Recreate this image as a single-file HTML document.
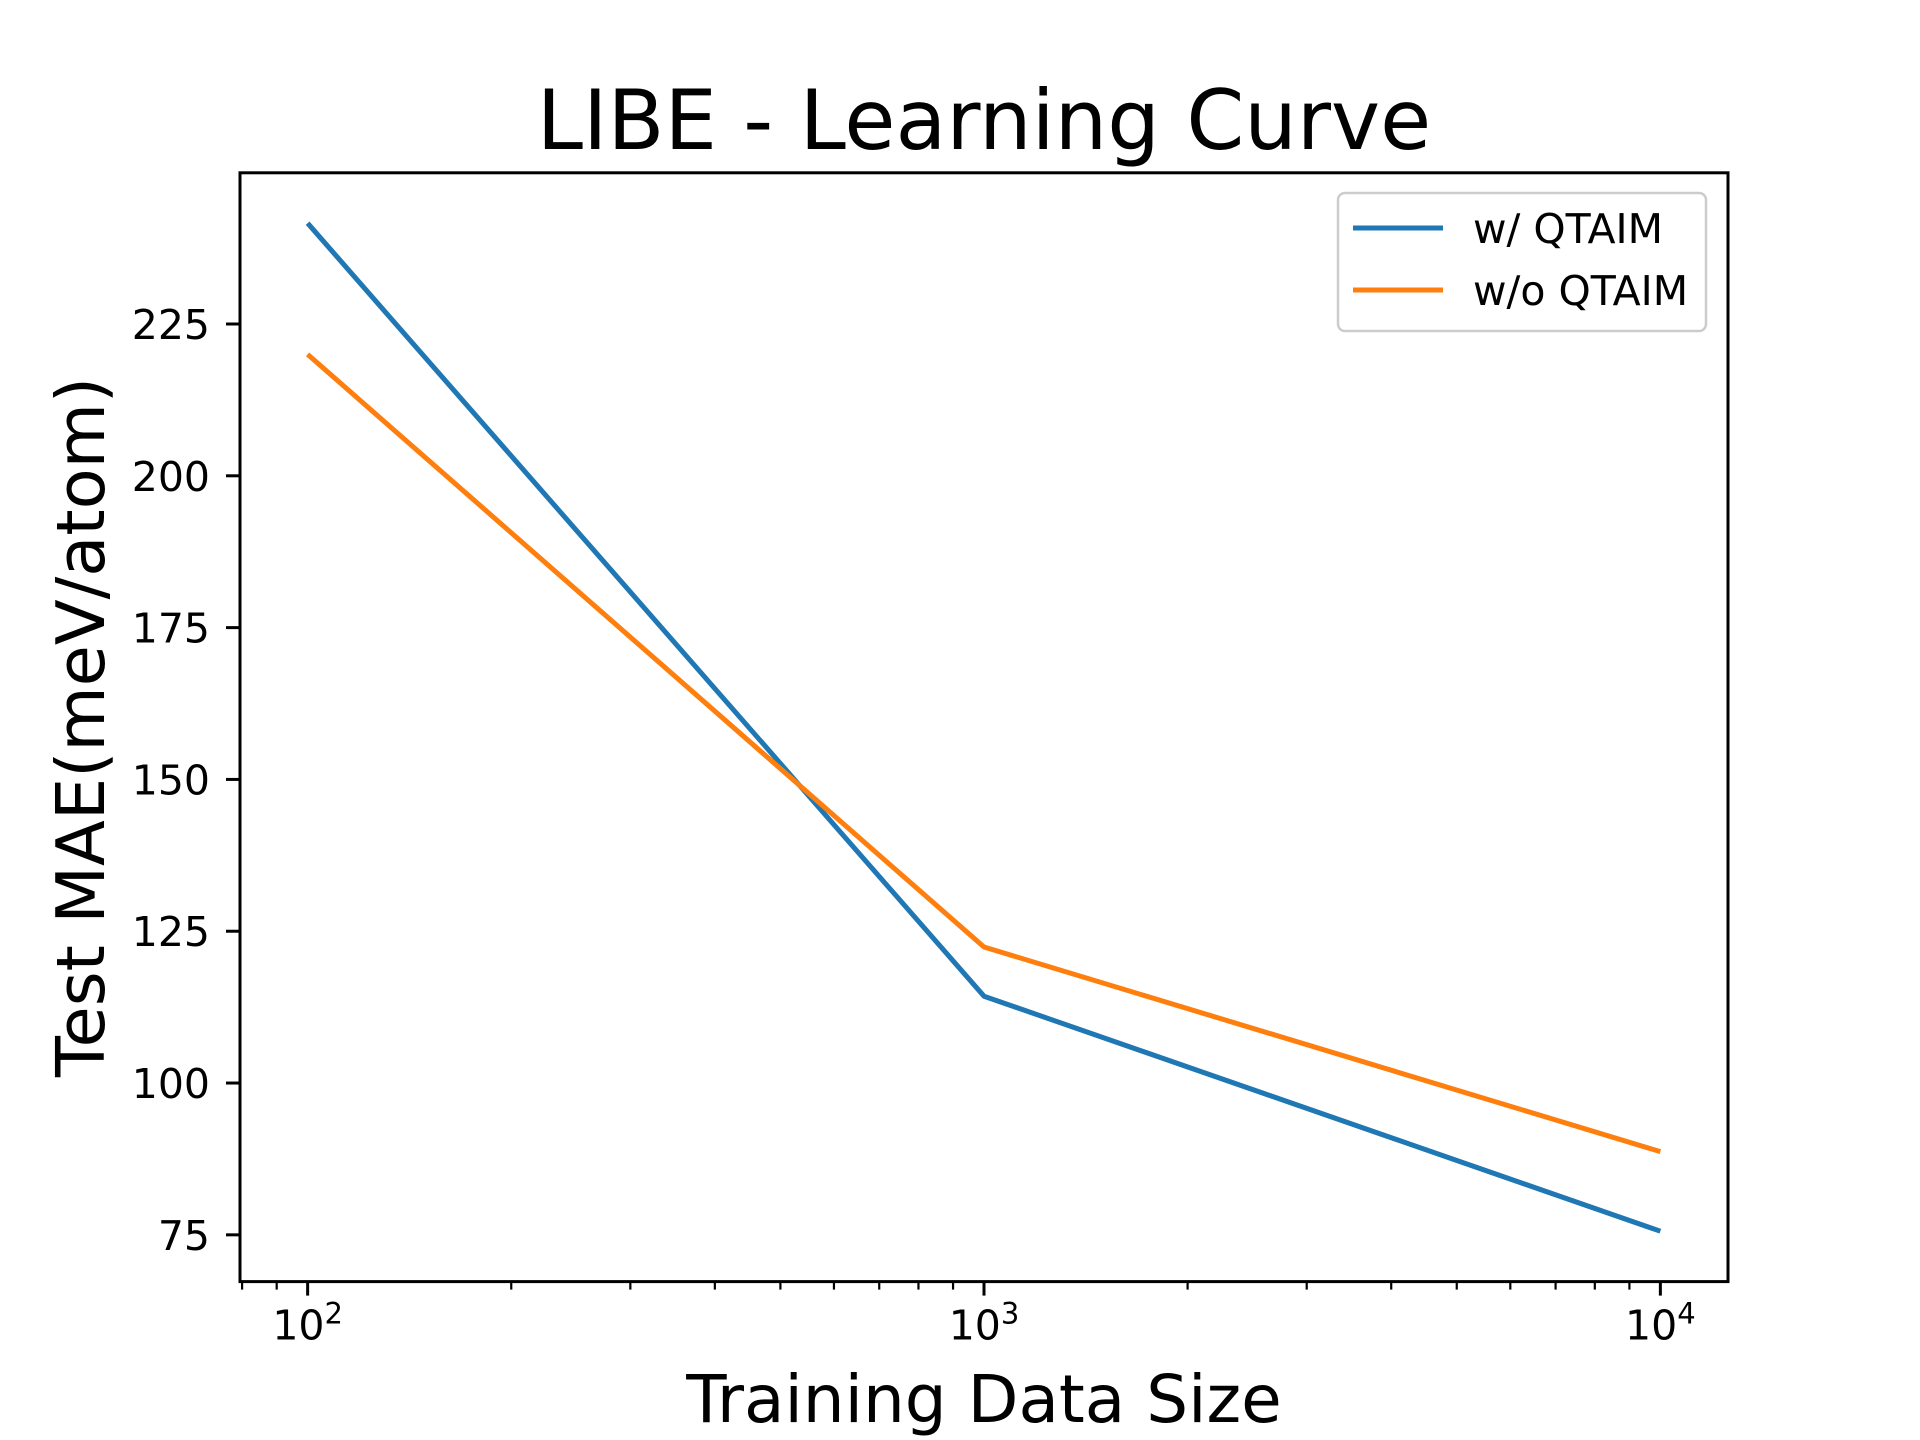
<!DOCTYPE html>
<html><head><meta charset="utf-8"><style>
html,body{margin:0;padding:0;background:#fff;}
svg{display:block;font-family:"DejaVu Sans","Liberation Sans",sans-serif;}
</style></head><body>
<svg id="chart" width="1920" height="1440" viewBox="0 0 1920 1440">
<rect width="1920" height="1440" fill="#fff"/>
<text x="984" y="149" font-size="83" text-anchor="middle">LIBE - Learning Curve</text>
<text x="984" y="1422" font-size="66" text-anchor="middle">Training Data Size</text>
<text transform="translate(104,727) rotate(-90)" font-size="67" text-anchor="middle">Test MAE(meV/atom)</text>
<g id="grid"></g>
<g id="series"></g>
<rect x="240" y="172.8" width="1488" height="1108.8" fill="none" stroke="#000" stroke-width="3"/>
<g>
<rect x="1338" y="193" width="368" height="138" rx="7" fill="#fff" fill-opacity="0.8" stroke="#ccc" stroke-width="2.5"/>
<line x1="1353" y1="228" x2="1443" y2="228" stroke="#1f77b4" stroke-width="5"/>
<text x="1473" y="243" font-size="41">w/ QTAIM</text>
<line x1="1353" y1="290" x2="1443" y2="290" stroke="#ff7f0e" stroke-width="5"/>
<text x="1473" y="305" font-size="41">w/o QTAIM</text>
</g>
</svg>
<script>
const sizes=[100,1000,10000];
const withQtaim=[241.6,114.3,75.6];
const withoutQtaim=[220.0,122.4,88.7];
const yTicks=[75,100,125,150,175,200,225];
const xTickExps=[2,3,4];
const L=240,R=1728,T=172.8,B=1281.6;
const xmin=1.9,xmax=4.1,ymin=67.3,ymax=249.9;
const NS='http://www.w3.org/2000/svg';
function sx(v){return L+(Math.log10(v)-xmin)/(xmax-xmin)*(R-L);}
function sy(v){return B-(v-ymin)/(ymax-ymin)*(B-T);}
function mk(tag,attrs,parent){const e=document.createElementNS(NS,tag);for(const k in attrs)e.setAttribute(k,attrs[k]);parent.appendChild(e);return e;}
const g=document.getElementById('grid');
yTicks.forEach(v=>{
 const y=sy(v);
 const t=mk('line',{x1:L-14,x2:L,y1:y,y2:y,stroke:'#000','stroke-width':3},g);
 
 
 const tx=mk('text',{x:L-30,y:y+15,'font-size':41,'text-anchor':'end'},g);
 tx.textContent=v;
 
 
});
xTickExps.forEach(e=>{
 const x=sx(Math.pow(10,e));
 const t=mk('line',{x1:x,x2:x,y1:B,y2:B+14,stroke:'#000','stroke-width':3},g);
 
 
 const tx=mk('text',{x:x,y:B+58,'font-size':41,'text-anchor':'middle'},g);
 tx.textContent='10';
 const sp=document.createElementNS(NS,'tspan');
 sp.setAttribute('dy','-16');sp.setAttribute('font-size','29');sp.textContent=String(e);
 tx.appendChild(sp);
 
 
});
for(let e=1;e<=4;e++){for(let m=2;m<=9;m++){const v=m*Math.pow(10,e);const lv=Math.log10(v);if(lv<xmin||lv>xmax)continue;const x=sx(v);
 const t=mk('line',{x1:x,x2:x,y1:B,y2:B+8,stroke:'#000','stroke-width':2.2},g);
 
 }}
const s=document.getElementById('series');
function line(vals,color,name){
 const pts=sizes.map((x,i)=>sx(x)+','+sy(vals[i])).join(' ');
 const p=mk('polyline',{points:pts,fill:'none',stroke:color,'stroke-width':5,'stroke-linejoin':'round'},s);
 
 
}
line(withQtaim,'#1f77b4','line-with-qtaim');
line(withoutQtaim,'#ff7f0e','line-without-qtaim');
</script>
</body></html>
